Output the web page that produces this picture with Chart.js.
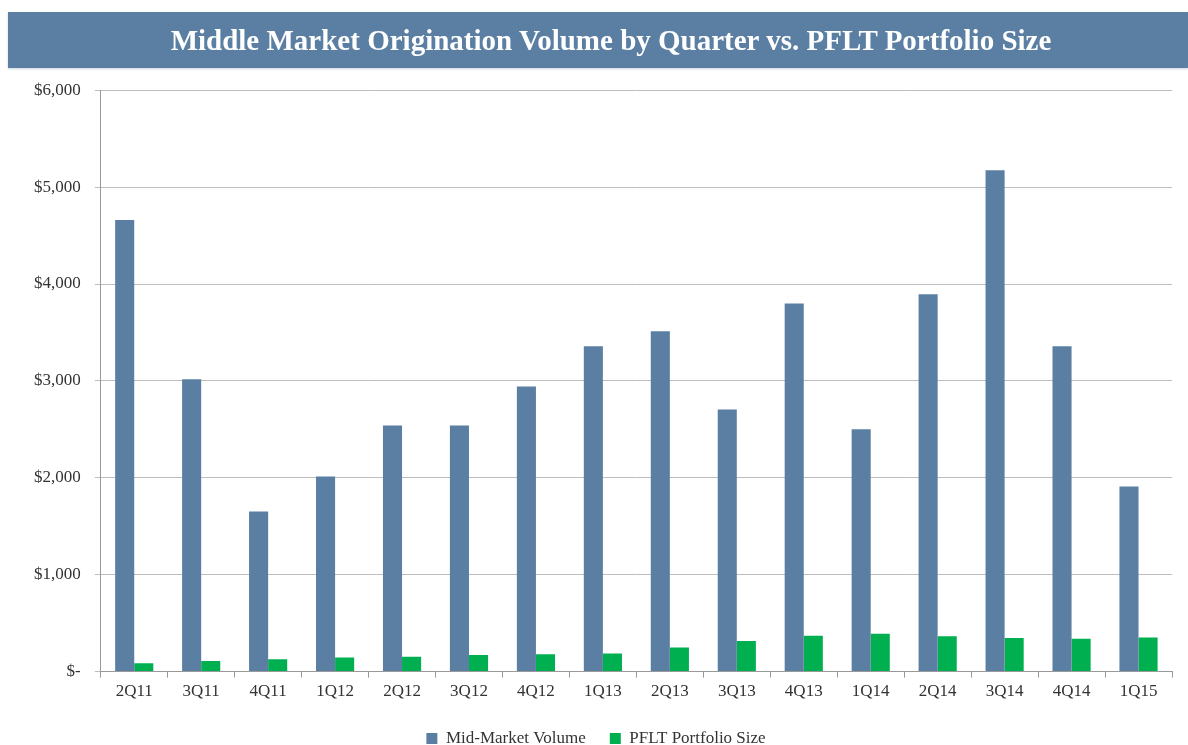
<!DOCTYPE html>
<html>
<head>
<meta charset="utf-8">
<script src="https://cdn.jsdelivr.net/npm/chart.js@4/dist/chart.umd.min.js"></script>
<style>
  body { margin: 0; background: #fff; width: 1188px; height: 745px; overflow: hidden; position: relative; }
  #title {
    position: absolute; left: 8px; top: 12px; width: 1154px; height: 56px; padding-left: 26px;
    background: #5b7fa3; color: #fff; box-shadow: 0 1px 2px #c9d3de; z-index: 1;
    font: bold 29px "Liberation Serif", serif; text-align: center; line-height: 56px;
  }
  #wrap { position: absolute; left: 0; top: 66px; width: 1188px; height: 691px; }
</style>
</head>
<body>
<div id="title">Middle Market Origination Volume by Quarter vs. PFLT Portfolio Size</div>
<div id="wrap"><canvas id="chart"></canvas></div>
<script>
const quarters = ['2Q11', '3Q11', '4Q11', '1Q12', '2Q12', '3Q12', '4Q12', '1Q13',
    '2Q13', '3Q13', '4Q13', '1Q14', '2Q14', '3Q14', '4Q14', '1Q15']
const midMarketVolume = [4660, 3016, 1653, 2014, 2541, 2541, 2943, 3357,
    3512, 2706, 3800, 2500, 3894, 5174, 3357, 1911]
const pfltPortfolio = [86, 110, 127, 145, 152, 172, 179, 186,
    248, 317, 369, 390, 365, 348, 338, 351]

function moneyLabel(v) {
    if (v === 0) return '$-'
    return '$' + v.toLocaleString('en-US')
}

function renderChart() {
    const ctx = document.getElementById('chart').getContext('2d');
    const chart = new Chart(ctx, {
        type: 'bar',
        data: {
            labels: quarters,
            datasets: [
                {
                    label: 'Mid-Market Volume',
                    data: midMarketVolume,
                    backgroundColor: '#5b7fa3'
                },
                {
                    label: 'PFLT Portfolio Size',
                    data: pfltPortfolio,
                    backgroundColor: '#00b050'
                }
            ]
        },
        options: {
            responsive: true,
            maintainAspectRatio: false,
            animation: false,
            layout: { padding: { left: 20, right: 16, top: 4, bottom: 0 } },
            datasets: {
                bar: { categoryPercentage: 0.57, barPercentage: 1.0 }
            },
            scales: {
                x: {
                    grid: { drawOnChartArea: false, tickLength: 6, color: '#999' },
                    border: { color: '#999' },
                    ticks: { color: '#333', font: { family: 'Liberation Serif', size: 17 }, padding: 4 }
                },
                y: {
                    min: 0, max: 6000,
                    grid: { color: '#bdbdbd', tickLength: 6 },
                    border: { color: '#999' },
                    ticks: {
                        stepSize: 1000,
                        color: '#333',
                        padding: 14,
                        font: { family: 'Liberation Serif', size: 17 },
                        callback: v => moneyLabel(v)
                    }
                }
            },
            plugins: {
                legend: {
                    position: 'bottom',
                    labels: {
                        boxWidth: 11, boxHeight: 11, padding: 24,
                        color: '#333',
                        font: { family: 'Liberation Serif', size: 17 }
                    }
                },
                tooltip: { enabled: false }
            }
        }
    })
}

renderChart()
</script>
</body>
</html>
